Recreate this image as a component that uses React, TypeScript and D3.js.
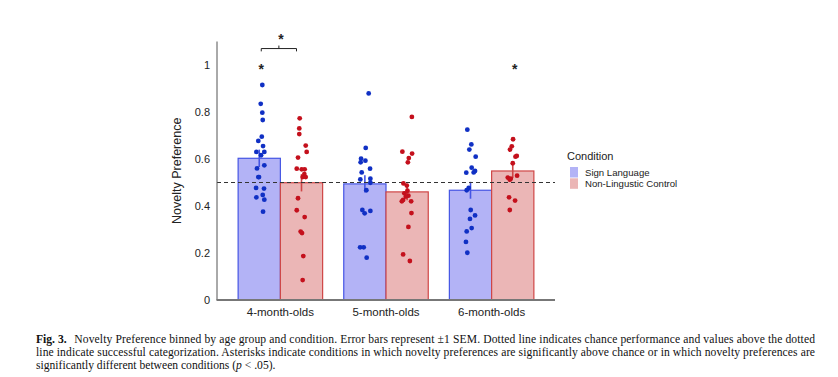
import React from "react";
import * as d3 from "d3";

const groups = ["4-month-olds", "5-month-olds", "6-month-olds"];
const conditions = ["Sign Language", "Non-Lingustic Control"];
const yTicks = [0, 0.2, 0.4, 0.6, 0.8, 1];

const signMeans = [0.603, 0.494, 0.467];
const controlMeans = [0.499, 0.46, 0.549];
const signSem = [0.037, 0.037, 0.036];
const controlSem = [0.037, 0.035, 0.03];
const chance = 0.5;

// individual infants (values) and horizontal jitter (category units)
const sign4 = [0.915, 0.835, 0.797, 0.766, 0.695, 0.677, 0.655, 0.63, 0.63, 0.616, 0.573, 0.56, 0.523, 0.523, 0.477, 0.474, 0.447, 0.437, 0.427, 0.376];
const sign4J = [0.029, 0.014, 0.029, 0.033, 0.024, -0.009, 0.036, -0.027, 0.048, 0.017, 0.048, -0.021, -0.009, -0.002, -0.03, 0.045, 0.033, -0.027, 0.048, 0.036];
const ctrl4 = [0.773, 0.73, 0.706, 0.657, 0.63, 0.606, 0.559, 0.556, 0.556, 0.536, 0.523, 0.523, 0.433, 0.382, 0.353, 0.291, 0.285, 0.187, 0.085];
const ctrl4J = [-0.017, -0.021, -0.021, 0.04, 0.049, -0.033, -0.045, 0.002, 0.03, 0.027, 0.011, 0.04, -0.033, -0.045, 0.03, -0.008, 0.005, 0.017, 0.011];
const sign5 = [0.879, 0.647, 0.601, 0.593, 0.586, 0.559, 0.543, 0.516, 0.513, 0.499, 0.467, 0.383, 0.379, 0.369, 0.224, 0.224, 0.18];
const sign5J = [0.036, 0.008, -0.036, 0.005, -0.04, 0.049, -0.03, 0.052, -0.043, 0.052, 0.014, -0.024, 0.052, -0.002, -0.045, -0.011, 0.017];
const ctrl5 = [0.779, 0.631, 0.623, 0.604, 0.586, 0.496, 0.487, 0.465, 0.454, 0.444, 0.44, 0.426, 0.42, 0.42, 0.37, 0.311, 0.194, 0.166];
const ctrl5J = [0.045, -0.045, 0.047, 0.016, 0.007, -0.035, -0.003, 0.003, -0.026, 0.012, -0.012, -0.038, -0.05, 0.038, 0.041, 0.012, -0.038, 0.026];
const sign6 = [0.725, 0.662, 0.64, 0.61, 0.563, 0.549, 0.543, 0.542, 0.477, 0.467, 0.383, 0.36, 0.345, 0.306, 0.292, 0.247, 0.201];
const sign6J = [-0.03, 0.008, -0.011, 0.049, 0.011, 0.043, 0.03, -0.04, -0.017, -0.036, 0.002, 0.043, -0.005, 0.011, -0.036, -0.043, -0.03];
const ctrl6 = [0.684, 0.654, 0.64, 0.613, 0.61, 0.582, 0.529, 0.521, 0.516, 0.512, 0.437, 0.423, 0.383];
const ctrl6J = [0.003, -0.009, -0.026, 0.038, 0.026, 0, 0.041, -0.047, -0.019, -0.028, -0.035, 0.022, -0.028];

const signPoints = [sign4, sign5, sign6];
const signJitter = [sign4J, sign5J, sign6J];
const ctrlPoints = [ctrl4, ctrl5, ctrl6];
const ctrlJitter = [ctrl4J, ctrl5J, ctrl6J];

// significance marks: [group index, condition index]
const aboveChance = [
  [0, 0],
  [2, 1],
];

const captionLines = [
  "Novelty Preference binned by age group and condition. Error bars represent ±1 SEM. Dotted line indicates chance performance and values above the dotted",
  "line indicate successful categorization. Asterisks indicate conditions in which novelty preferences are significantly above chance or in which novelty preferences are",
];

const W = 838;
const H = 377;

const BLUE_FILL = "#b3b3f6";
const BLUE_STROKE = "#4555e4";
const BLUE_DOT = "#1030c4";
const RED_FILL = "#ebb6b6";
const RED_STROKE = "#cf4646";
const RED_DOT = "#c4101c";

export default function App() {
  const x = d3.scaleLinear().domain([0.4, 3.6]).range([217, 555]);
  const y = d3.scaleLinear().domain([0, 1.1]).range([300, 41.5]);
  const barW = 0.4;

  const series = [
    { means: signMeans, sem: signSem, pts: signPoints, jit: signJitter, off: -0.2, fill: BLUE_FILL, stroke: BLUE_STROKE, dot: BLUE_DOT },
    { means: controlMeans, sem: controlSem, pts: ctrlPoints, jit: ctrlJitter, off: 0.2, fill: RED_FILL, stroke: RED_STROKE, dot: RED_DOT },
  ];

  const sans = "'Liberation Sans', Arial, sans-serif";
  const serif = "'Liberation Serif', 'Times New Roman', serif";

  const bx1 = x(1 - 0.2) + 2;
  const bx2 = x(1 + 0.2) - 5;
  const bTop = y(1.07);
  const bLow = y(1.058);

  return (
    <svg width={W} height={H} style={{ position: "absolute", left: 0, top: 0, background: "#fff" }}>
      {/* bars */}
      {series.map((s, si) =>
        groups.map((g, gi) => {
          const cx = gi + 1 + s.off;
          return (
            <rect
              key={`b${si}-${gi}`}
              x={x(cx - barW / 2)}
              y={y(s.means[gi])}
              width={x(cx + barW / 2) - x(cx - barW / 2)}
              height={y(0) - y(s.means[gi])}
              fill={s.fill}
              stroke={s.stroke}
              strokeWidth={1.2}
            />
          );
        })
      )}
      {/* error bars */}
      {series.map((s, si) =>
        groups.map((g, gi) => {
          const cx = x(gi + 1 + s.off);
          return (
            <line
              key={`e${si}-${gi}`}
              x1={cx}
              x2={cx}
              y1={y(s.means[gi] - s.sem[gi])}
              y2={y(s.means[gi] + s.sem[gi])}
              stroke={s.stroke}
              strokeWidth={1.6}
            />
          );
        })
      )}
      {/* chance line */}
      <line x1={x(0.4)} x2={x(3.6)} y1={y(chance)} y2={y(chance)} stroke="#333" strokeWidth={1} strokeDasharray="4,3" />
      {/* dots */}
      {series.map((s, si) =>
        groups.map((g, gi) =>
          s.pts[gi].map((v, i) => (
            <circle
              key={`d${si}-${gi}-${i}`}
              cx={x(gi + 1 + s.off + s.jit[gi][i])}
              cy={y(v)}
              r={2.4}
              fill={s.dot}
            />
          ))
        )
      )}
      {/* axes */}
      <line x1={x(0.4)} x2={x(0.4)} y1={y(0)} y2={y(1.1)} stroke="#555" strokeWidth={1} />
      <line x1={x(0.4) - 0.5} x2={x(3.6)} y1={y(0)} y2={y(0)} stroke="#777" strokeWidth={1.8} />
      {yTicks.map((t) => (
        <text key={`t${t}`} x={210} y={y(t)} dy="0.35em" textAnchor="end" fontFamily={sans} fontSize={11} fill="#222">
          {d3.format("~g")(t)}
        </text>
      ))}
      {groups.map((g, gi) => (
        <text key={`g${gi}`} x={x(gi + 1)} y={316} textAnchor="middle" fontFamily={sans} fontSize={11.5} fill="#222">
          {g}
        </text>
      ))}
      <text
        transform={`translate(181,${y(0.55)}) rotate(-90)`}
        textAnchor="middle"
        fontFamily={sans}
        fontSize={12.5}
        fill="#222"
      >
        Novelty Preference
      </text>
      {/* significance */}
      {aboveChance.map(([gi, ci], k) => (
        <text
          key={`s${k}`}
          x={x(gi + 1 + series[ci].off) + 2}
          y={y(0.993)}
          dy="0.55em"
          textAnchor="middle"
          fontFamily={sans}
          fontSize={14}
          fontWeight="bold"
          fill="#222"
        >
          *
        </text>
      ))}
      <path
        d={`M${bx1},${bLow}V${bTop}H${bx2}V${bLow}M${(bx1 + bx2) / 2},${bTop}V${bTop - 3}`}
        fill="none"
        stroke="#222"
        strokeWidth={1}
      />
      <text x={(bx1 + bx2) / 2 + 2} y={36} dy="0.55em" textAnchor="middle" fontFamily={sans} fontSize={14} fontWeight="bold" fill="#222">
        *
      </text>
      {/* legend */}
      <text x={567} y={156.5} dy="0.35em" fontFamily={sans} fontSize={11} fill="#222">
        Condition
      </text>
      {conditions.map((c, i) => (
        <g key={`l${i}`}>
          <rect x={570} y={167 + i * 11.3} width={8} height={10.5} fill={series[i].fill} />
          <text x={585} y={172.5 + i * 11.6} dy="0.35em" fontFamily={sans} fontSize={9.6} fill="#222">
            {c}
          </text>
        </g>
      ))}
      {/* caption */}
      <g fontFamily={serif} fontSize={11.6} fill="#111">
        <text x={36} y={342.7} fontWeight="bold">
          Fig. 3.
        </text>
        <text x={74.3} y={342.7} textLength={740.7} lengthAdjust="spacing">
          {captionLines[0]}
        </text>
        <text x={36} y={356} textLength={779} lengthAdjust="spacing">
          {captionLines[1]}
        </text>
        <text x={36} y={369.3}>
          significantly different between conditions (<tspan fontStyle="italic">p</tspan> {"<"} .05).
        </text>
      </g>
    </svg>
  );
}
